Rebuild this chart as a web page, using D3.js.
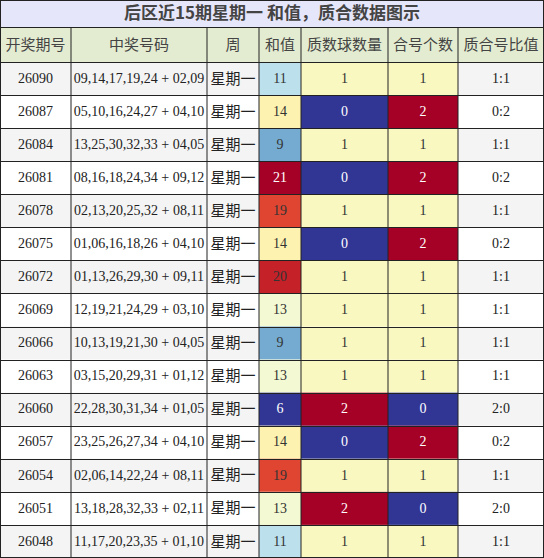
<!DOCTYPE html><html><head><meta charset="utf-8"><script src="https://cdn.jsdelivr.net/npm/d3@7"></script>
<style>body{margin:0;background:#fff}</style></head><body><script>
const title="后区近15期星期一 和值，质合数据图示";
const headers=["开奖期号","中奖号码","周","和值","质数球数量","合号个数","质合号比值"];
const periods=["26090","26087","26084","26081","26078","26075","26072","26069","26066","26063","26060","26057","26054","26051","26048"];
const numbers=["09,14,17,19,24 + 02,09","05,10,16,24,27 + 04,10","13,25,30,32,33 + 04,05","08,16,18,24,34 + 09,12","02,13,20,25,32 + 08,11","01,06,16,18,26 + 04,10","01,13,26,29,30 + 09,11","12,19,21,24,29 + 03,10","10,13,19,21,30 + 04,05","03,15,20,29,31 + 01,12","22,28,30,31,34 + 01,05","23,25,26,27,34 + 04,10","02,06,14,22,24 + 08,11","13,18,28,32,33 + 02,11","11,17,20,23,35 + 01,10"];
const sums=[11,14,9,21,19,14,20,13,9,13,6,14,19,13,11];
const primes=[1,0,1,0,1,0,1,1,1,1,2,0,1,2,1];
const composites=[1,2,1,2,1,2,1,1,1,1,0,2,1,0,1];
const W=544,H=558;
const cols=[0,71,207,259,301,388,458,544];
const titleH=27,headH=35;
const rowH=(H-titleH-headH)/15;
const svg=d3.select("body").append("svg").attr("width",W).attr("height",H);
const sumColor=d3.scaleSequential(t=>d3.interpolateRdYlBu(t)).domain([21,6]);
const cntColor=d3.scaleSequential(t=>d3.interpolateRdYlBu(t)).domain([2,0]);
const serif="'Liberation Serif','DejaVu Serif',serif", cjk="'Noto Sans CJK SC',sans-serif";
svg.append("rect").attr("x",0).attr("y",0).attr("width",W).attr("height",titleH).attr("fill","#e6e6fa");
svg.append("text").attr("x",W/2).attr("y",titleH/2+1).attr("text-anchor","middle").attr("dominant-baseline","middle")
 .attr("font-family",cjk).attr("font-weight","bold").attr("font-size",17).attr("fill","#444").text(title);
const hy=titleH;
headers.forEach((h,i)=>{
 svg.append("rect").attr("x",cols[i]).attr("y",hy).attr("width",cols[i+1]-cols[i]).attr("height",headH).attr("fill","#e3ecd0");
 svg.append("text").attr("x",(cols[i]+cols[i+1])/2).attr("y",hy+headH/2+1).attr("text-anchor","middle").attr("dominant-baseline","middle")
  .attr("font-family",cjk).attr("font-size",15).attr("fill","#444").text(h);
});
periods.forEach((p,r)=>{
 const y=titleH+headH+r*rowH;
 const base=r%2===0?"#f4f4f4":"#ffffff";
 const cells=[
  {t:p,bg:base,f:serif,c:"#222"},
  {t:numbers[r],bg:base,f:serif,c:"#222"},
  {t:"星期一",bg:base,f:cjk,c:"#222",s:15},
  {t:sums[r],bg:sumColor(sums[r]),f:serif},
  {t:primes[r],bg:cntColor(primes[r]),f:serif},
  {t:composites[r],bg:cntColor(composites[r]),f:serif},
  {t:primes[r]+":"+composites[r],bg:base,f:serif,c:"#222"}];
 cells.forEach((c,i)=>{
  svg.append("rect").attr("x",cols[i]).attr("y",y).attr("width",cols[i+1]-cols[i]).attr("height",rowH).attr("fill",c.bg);
  let col=c.c;
  if(!col){const l=d3.hsl(c.bg).l;col=l<0.45?"#fff":"#333";}
  svg.append("text").attr("x",(cols[i]+cols[i+1])/2).attr("y",y+rowH/2+1).attr("text-anchor","middle").attr("dominant-baseline","middle")
   .attr("font-family",c.f).attr("font-size",c.s||14).attr("fill",col).text(c.t);
 });
});
const g=svg.append("g").attr("stroke","#222").attr("stroke-width",1);
cols.forEach(x=>{const xx=Math.min(Math.max(x,0.5),W-0.5);g.append("line").attr("x1",xx).attr("x2",xx).attr("y1",titleH).attr("y2",H);});
for(let r=0;r<=16;r++){const y=Math.round(titleH+(r===0?0:headH+(r-1)*rowH))+0.5;g.append("line").attr("x1",0).attr("x2",W).attr("y1",Math.min(y,H-0.5)).attr("y2",Math.min(y,H-0.5));}
svg.append("rect").attr("x",0.5).attr("y",0.5).attr("width",W-1).attr("height",H-1).attr("fill","none").attr("stroke","#222");
</script></body></html>
